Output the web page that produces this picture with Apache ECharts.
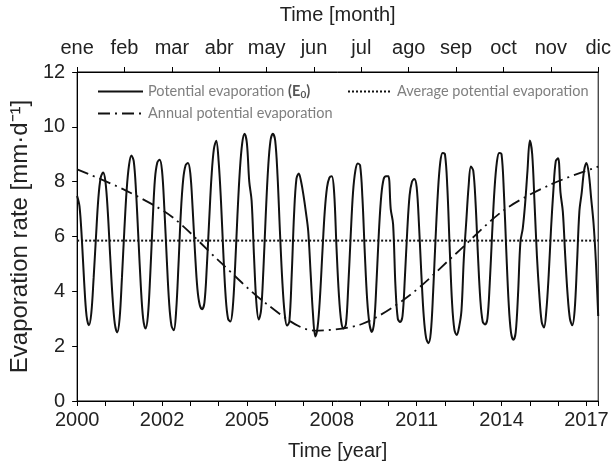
<!DOCTYPE html>
<html>
<head>
<meta charset="utf-8">
<script src="https://cdn.jsdelivr.net/npm/echarts@6/dist/echarts.min.js"></script>
<style>html,body{margin:0;padding:0;background:#fff}#c{width:614px;height:466px}</style>
</head>
<body>
<div id="c"></div>
<script>
// ---- data ----
var monthLabels = ['ene','feb','mar','abr','may','jun','jul','ago','sep','oct','nov','dic'];
var yearTickLabels = ['2000','2002','2005','2008','2011','2014','2017'];
// monthly potential evaporation E0 (mm/d), index 0 = first month of the record
var e0Monthly = [
 7.48,7.1,5.9,4.3,3.1,2.76,3.2,4.5,6.0,7.4,8.15,8.33,
 8.0,6.9,5.3,3.8,2.8,2.5,3.0,4.5,6.2,7.7,8.6,8.95,
 8.75,7.6,5.9,4.2,3.0,2.64,3.1,4.6,6.5,8.1,8.7,8.8,
 8.4,7.0,5.2,3.6,2.75,2.58,3.3,5.0,6.9,8.1,8.6,8.68,
 8.3,7.0,5.4,4.1,3.5,3.35,3.6,4.9,6.6,8.2,9.2,9.49,
 8.75,7.3,5.4,3.8,3.0,2.9,3.4,4.9,6.8,8.4,9.4,9.75,
 9.4,8.0,7.3,5.3,3.6,2.97,3.3,4.8,6.8,8.5,9.5,9.75,
 9.5,8.2,6.2,4.4,3.2,2.75,2.9,4.6,6.8,8.1,8.3,8.0,
 7.5,6.9,6.2,4.7,3.2,2.35,2.7,3.8,5.4,6.9,7.8,8.15,
 8.2,7.6,5.6,3.9,2.9,2.64,2.8,4.2,6.0,7.6,8.4,8.66,
 8.6,7.4,5.4,3.7,2.8,2.52,2.9,4.4,6.2,7.5,8.1,8.2,
 8.2,7.0,6.45,4.2,3.0,2.88,3.1,4.5,6.2,7.5,8.0,8.1,
 7.8,6.4,4.6,3.1,2.3,2.11,2.5,4.0,5.9,7.6,8.7,9.05,
 9.0,7.8,5.6,3.6,2.6,2.41,2.7,3.3,5.2,6.5,7.8,8.55,
 8.4,7.2,5.3,3.7,2.9,2.79,3.0,4.3,6.1,7.7,8.7,9.05,
 9.0,7.6,5.5,3.6,2.5,2.23,2.5,3.9,5.8,6.3,7.2,8.4,
 9.5,9.0,7.2,5.3,3.9,2.9,2.68,3.3,4.6,6.3,7.7,8.75,
 8.85,7.6,6.9,5.3,3.9,3.0,2.76,3.3,5.0,6.9,7.6,8.4,
 8.68,8.3,7.4,6.5,5.1,3.1
];
// annual (climatological) potential evaporation by month
var annualByMonth = [8.45,7.7,6.72,5.1,3.54,2.57,2.8,3.83,5.38,6.95,7.9,8.55];
// average potential evaporation
var averageE0 = 5.85;
var seriesNames = ['Potential evaporation (E0)','Annual potential evaporation','Average potential evaporation'];

// ---- build ----
var lastIdx = e0Monthly.length - 1;
var e0Data = e0Monthly.map(function(v,i){ return [i, v]; });
var avgData = [[0, averageE0], [lastIdx, averageE0]];
var axisFont = 'Liberation Sans, Arial, sans-serif';
var legendFont = 'Lato, Carlito, Calibri, sans-serif';
var hiddenSymbol = {color:'rgba(0,0,0,0)', borderColor:'rgba(0,0,0,0)', borderWidth:0, opacity:0};
var legendText = {fontFamily: legendFont, fontSize: 14.5, color:'#7f7f7f'};

var chart = echarts.init(document.getElementById('c'), null, {renderer:'canvas'});
chart.setOption({
  animation: false,
  backgroundColor: '#fff',
  grid: {left: 77, right: 13, top: 69, bottom: 58, show: true, borderColor: '#000', borderWidth: 1},
  legend: [
    {data:[seriesNames[0]], left: 97, top: 84, padding: 0, itemWidth: 45, itemHeight: 14, itemGap: 5,
     itemStyle: hiddenSymbol,
     textStyle:{fontFamily: legendFont, fontSize: 14.5, color:'#7f7f7f',
       rich:{b:{fontFamily: legendFont, fontSize:14.5, fontWeight:'bold', color:'#555'},
             s:{fontFamily: legendFont, fontSize:10, fontWeight:'bold', color:'#555', padding:[7,0,0,0]}}},
     formatter: function(n){ return 'Potential evaporation {b|(E}{s|0}{b|)}'; }},
    {data:[seriesNames[1]], left: 97, top: 106, padding: 0, itemWidth: 45, itemHeight: 14,
     itemStyle: hiddenSymbol, textStyle: legendText},
    {data:[seriesNames[2]], left: 347, top: 84, padding: 0, itemWidth: 44, itemHeight: 14,
     itemStyle: hiddenSymbol, textStyle: legendText}
  ],
  xAxis: [
    {type:'value', min: 0, max: lastIdx, interval: 12, position:'bottom',
     name:'Time [year]', nameLocation:'middle', nameGap: 40,
     nameTextStyle:{fontFamily: axisFont, fontSize: 20, color:'#222'},
     axisLine:{onZero:false, lineStyle:{color:'#000', width:1}},
     axisTick:{show:true, length:5, lineStyle:{color:'#000'}},
     axisLabel:{fontFamily: axisFont, fontSize: 20, color:'#222', margin: 9,
       formatter:function(v){ if (v % 36 === 0 && v/36 < yearTickLabels.length) return yearTickLabels[v/36]; return ''; }},
     splitLine:{show:false}},
    {type:'category', data: monthLabels, position:'top', boundaryGap:false,
     name:'Time [month]', nameLocation:'middle', nameGap: 47,
     nameTextStyle:{fontFamily: axisFont, fontSize: 20, color:'#222'},
     axisLine:{onZero:false, lineStyle:{color:'#000', width:1}},
     axisTick:{show:true, length:5, alignWithLabel:true, lineStyle:{color:'#000'}},
     axisLabel:{fontFamily: axisFont, fontSize: 20, color:'#222', margin: 14, interval:0},
     splitLine:{show:false}},
  ],
  yAxis: {type:'value', min:0, max:12, interval:2,
    name:'Evaporation rate [mm·d⁻¹]', nameLocation:'middle', nameGap: 44, nameRotate: 90,
    nameTextStyle:{fontFamily: axisFont, fontSize: 24, color:'#222'},
    axisLine:{show:true, lineStyle:{color:'#000', width:1}},
    axisTick:{show:true, length:5, lineStyle:{color:'#000'}},
    axisLabel:{fontFamily: axisFont, fontSize: 20, color:'#222', margin: 12},
    splitLine:{show:false}},
  series: [
    {name: seriesNames[0], type:'line', xAxisIndex:0, data: e0Data, symbol:'none', smooth: 0.35,
     lineStyle:{color:'#111', width:2}, itemStyle:{color:'#111'}, z:3},
    {name: seriesNames[1], type:'line', xAxisIndex:1, data: annualByMonth, symbol:'none', smooth: 0.3,
     lineStyle:{color:'#111', width:1.8, type:[12,5,2,5]}, itemStyle:{color:'#111'}, z:2},
    {name: seriesNames[2], type:'line', xAxisIndex:0, data: avgData, symbol:'none',
     lineStyle:{color:'#111', width:2, type:[2,2]}, itemStyle:{color:'#111'}, z:2}
  ]
});
</script>
</body>
</html>
